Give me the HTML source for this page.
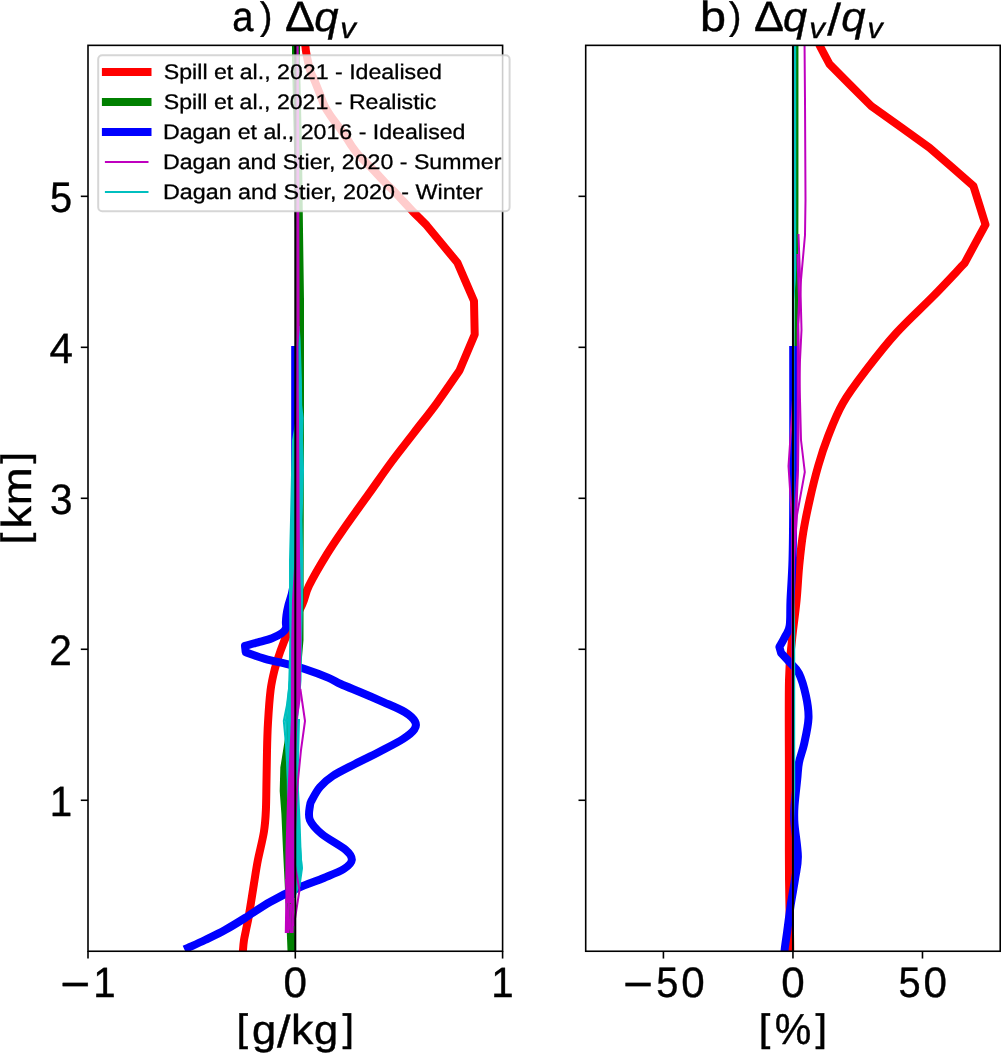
<!DOCTYPE html><html><head><meta charset="utf-8"><style>html,body{margin:0;padding:0;background:#fff;width:1001px;height:1053px;overflow:hidden}svg{display:block;will-change:transform}text{font-family:"Liberation Sans", sans-serif;fill:#000;text-rendering:geometricPrecision;stroke:#000;stroke-width:0.4px}text.lg{stroke-width:0.3px}</style></head><body>
<svg width="1001" height="1053" viewBox="0 0 1001 1053">
<rect width="1001" height="1053" fill="#fff"/>
<defs><clipPath id="cl"><rect x="88.0" y="45.35" width="414.6" height="905.9"/></clipPath><clipPath id="cr"><rect x="585.7" y="45.35" width="414.5" height="905.9"/></clipPath></defs>
<g clip-path="url(#cl)">
<path d="M305.4,38.0 C305.4,39.4 305.2,43.4 305.4,46.2 C305.6,49.0 305.8,50.7 306.6,54.8 C307.4,58.9 309.0,66.7 310.3,70.9 C311.6,75.1 312.8,76.3 314.3,80.0 C315.9,83.7 317.8,88.9 319.6,93.3 C321.4,97.7 322.9,102.6 324.9,106.6 C326.9,110.6 329.2,113.6 331.6,117.2 C334.1,120.8 337.1,124.5 339.6,128.0 C342.1,131.5 344.4,134.9 346.5,138.0 C348.6,141.1 350.0,143.7 352.0,146.5 C354.0,149.3 356.1,152.2 358.5,155.0 C360.9,157.8 363.8,160.4 366.6,163.2 C369.4,166.0 372.2,168.8 375.2,171.9 C378.2,175.0 381.4,178.7 384.6,182.0 C387.8,185.3 391.1,188.3 394.2,191.5 C397.3,194.7 400.1,197.9 403.3,201.3 C406.5,204.7 410.2,208.8 413.2,211.9 C416.2,215.0 419.0,217.7 421.2,219.9 C423.4,222.1 425.6,224.3 426.5,225.2 C431.7,231.5 452.3,256.5 457.5,262.8 C460.2,269.2 471.2,294.6 474.0,301.0 C474.1,306.6 474.6,328.9 474.7,334.5 C472.2,340.5 462.0,364.5 459.5,370.5 C455.7,376.0 444.3,392.9 436.7,403.3 C429.1,413.7 421.5,423.0 413.9,432.9 C406.3,442.8 398.7,452.2 391.1,462.5 C383.5,472.8 376.0,483.8 368.4,494.4 C360.8,505.0 352.5,516.4 345.6,526.3 C338.8,536.2 333.4,543.8 327.3,553.7 C321.2,563.6 313.3,577.1 309.1,585.6 C304.9,594.1 305.8,596.6 302.2,604.7 C298.6,612.8 290.9,626.2 287.3,634.0 C283.7,641.8 282.4,645.7 280.3,651.5 C278.2,657.3 276.4,662.6 274.8,669.0 C273.2,675.4 271.7,681.1 270.6,690.0 C269.5,698.9 268.6,712.4 268.0,722.6 C267.4,732.8 267.2,741.4 267.0,751.0 C266.8,760.6 266.7,770.2 266.5,780.0 C266.3,789.8 266.3,801.3 265.9,810.0 C265.5,818.7 265.2,823.7 263.9,832.0 C262.6,840.3 259.6,851.3 257.9,860.0 C256.2,868.7 255.4,874.8 253.9,884.0 C252.4,893.2 250.3,907.3 249.0,915.0 C247.7,922.7 246.8,925.8 246.0,930.0 C245.2,934.2 244.5,936.7 244.0,940.0 C243.5,943.3 243.2,947.0 243.0,950.0 C242.8,953.0 242.8,956.7 242.8,958.0" fill="none" stroke="#ff0000" stroke-width="8" stroke-linejoin="round" stroke-linecap="square"/>
<polyline points="296.0,38.0 296.0,60.0 298.0,150.0 299.0,230.0 300.0,300.0 300.0,400.0 299.8,500.0 299.6,580.0 299.5,640.0 296.0,680.0 292.0,710.0 288.8,740.0 284.3,768.0 283.7,791.0 285.4,814.0 287.0,850.0 289.5,900.0 291.5,950.0 291.5,958.0" fill="none" stroke="#008000" stroke-width="8" stroke-linejoin="round" stroke-linecap="square"/>
<path d="M295.2,350.0 C295.2,385.0 295.2,525.0 295.2,560.0 C294.8,564.7 294.1,580.5 293.0,588.0 C291.9,595.5 289.6,600.5 288.5,605.0 C287.4,609.5 286.9,612.1 286.5,615.0 C286.1,617.9 286.0,619.9 285.9,622.1 C285.8,624.3 286.6,626.5 285.9,628.4 C285.2,630.3 284.0,631.7 281.7,633.3 C279.4,634.9 275.9,636.7 272.0,638.2 C268.1,639.7 262.5,641.1 258.0,642.4 C253.5,643.7 247.2,645.3 245.0,645.9 C245.1,647.0 245.6,651.2 245.7,652.2 C248.9,653.3 257.6,656.7 265.0,658.8 C272.4,660.9 283.6,663.1 290.1,664.8 C296.6,666.5 297.7,666.7 304.0,668.8 C310.3,670.9 321.9,675.1 328.0,677.6 C334.1,680.1 335.4,681.6 340.7,684.0 C346.0,686.4 352.7,689.0 359.9,692.0 C367.1,695.0 376.4,699.0 383.9,702.3 C391.4,705.6 399.5,708.8 404.7,712.0 C409.9,715.2 413.4,718.6 415.0,721.5 C416.6,724.4 416.3,726.6 414.3,729.5 C412.3,732.4 408.9,735.2 403.0,739.0 C397.1,742.8 387.0,747.8 379.0,752.0 C371.0,756.2 362.7,760.0 355.0,764.0 C347.3,768.0 338.5,772.2 332.7,776.0 C326.9,779.8 323.4,783.0 320.0,787.0 C316.6,791.0 313.7,796.6 312.0,799.8 C310.3,803.0 310.2,802.6 309.9,806.0 C309.5,809.4 307.9,815.3 309.9,820.0 C311.9,824.7 315.8,829.0 321.8,834.0 C327.8,839.0 340.8,845.7 345.8,850.0 C350.8,854.3 352.1,856.8 351.8,860.0 C351.5,863.2 348.5,866.0 343.8,869.0 C339.1,872.0 331.5,874.8 323.8,878.0 C316.1,881.2 306.9,884.0 297.9,888.0 C288.9,892.0 278.8,897.0 270.0,902.0 C261.2,907.0 252.5,913.3 245.0,918.0 C237.5,922.7 231.7,926.3 225.0,930.0 C218.3,933.7 211.2,937.0 205.0,940.0 C198.8,943.0 190.8,946.5 188.0,947.8" fill="none" stroke="#0000ff" stroke-width="8" stroke-linejoin="round" stroke-linecap="square"/>
<polygon points="298.4,326.0 298.3,340.0 298.3,380.0 297.5,405.0 296.0,418.0 292.0,440.0 291.1,470.0 290.0,520.0 289.0,560.0 289.0,600.0 289.5,640.0 289.0,680.0 288.0,700.0 287.0,720.0 288.0,760.0 289.0,790.0 293.0,820.0 294.0,850.0 294.0,868.0 294.0,886.0 294.0,898.0 295.0,898.0 299.5,886.0 302.5,868.0 301.5,850.0 300.5,820.0 299.0,790.0 298.0,760.0 298.0,720.0 300.0,700.0 301.5,680.0 302.0,640.0 303.0,600.0 303.2,560.0 302.5,520.0 304.0,470.0 303.0,440.0 303.6,418.0 302.2,405.0 301.9,380.0 300.6,340.0 299.6,326.0" fill="#00bfbf"/>
<polyline points="290.0,680.0 287.0,705.0 283.8,721.0 286.0,745.0 288.0,780.0 289.0,820.0 292.0,870.0" fill="none" stroke="#00bfbf" stroke-width="2" stroke-linejoin="round" stroke-linecap="square"/>
<polyline points="290.5,640.0 289.0,690.0 286.0,720.0 287.5,760.0 288.0,800.0 291.0,850.0" fill="none" stroke="#00bfbf" stroke-width="2" stroke-linejoin="round" stroke-linecap="square"/>
<polyline points="299.0,720.0 297.5,780.0 298.0,820.0 301.0,860.0 302.0,868.0 299.5,886.0" fill="none" stroke="#00bfbf" stroke-width="2" stroke-linejoin="round" stroke-linecap="square"/>
<polygon points="296.3,38.0 296.2,150.0 296.2,250.0 296.3,330.0 296.2,345.0 296.0,420.0 296.0,500.0 294.5,560.0 292.0,600.0 291.2,640.0 291.0,700.0 291.0,720.0 289.0,760.0 287.0,800.0 285.5,850.0 285.3,880.0 285.5,903.0 294.0,903.0 294.4,880.0 294.5,850.0 295.0,800.0 296.0,760.0 297.5,720.0 300.5,700.0 301.4,640.0 301.0,600.0 300.0,560.0 299.5,500.0 299.0,420.0 298.4,345.0 299.6,330.0 299.4,250.0 299.2,150.0 298.6,38.0" fill="#bf00bf"/>
<polyline points="300.5,690.0 305.0,721.0 301.0,750.0 297.0,790.0 295.0,830.0" fill="none" stroke="#bf00bf" stroke-width="2" stroke-linejoin="round" stroke-linecap="square"/>
<polyline points="294.0,860.0 299.5,890.0 294.0,925.0" fill="none" stroke="#bf00bf" stroke-width="2" stroke-linejoin="round" stroke-linecap="square"/>
<polyline points="286.0,880.0 288.5,905.0 286.0,932.0" fill="none" stroke="#bf00bf" stroke-width="2" stroke-linejoin="round" stroke-linecap="square"/>
<polyline points="286.3,900.0 285.8,932.0" fill="none" stroke="#bf00bf" stroke-width="2" stroke-linejoin="round" stroke-linecap="square"/>
<polyline points="289.0,900.0 287.8,932.0" fill="none" stroke="#bf00bf" stroke-width="2" stroke-linejoin="round" stroke-linecap="square"/>
<polyline points="292.0,900.0 289.5,925.0 288.5,932.0" fill="none" stroke="#bf00bf" stroke-width="2" stroke-linejoin="round" stroke-linecap="square"/>
<polyline points="293.3,900.0 292.6,932.0" fill="none" stroke="#bf00bf" stroke-width="2" stroke-linejoin="round" stroke-linecap="square"/>
<polyline points="290.5,905.0 291.0,932.0" fill="none" stroke="#bf00bf" stroke-width="2" stroke-linejoin="round" stroke-linecap="square"/>
<line x1="295.3" y1="38" x2="295.3" y2="958" stroke="#000" stroke-width="2"/>
</g>
<g clip-path="url(#cr)">
<path d="M819.6,38.0 C819.6,39.2 819.6,44.2 819.6,45.5 C821.2,48.6 827.9,61.1 829.5,64.2 C836.5,71.2 864.2,99.0 871.2,106.0 C880.9,113.0 919.8,140.8 929.5,147.7 C936.8,154.1 966.1,179.6 973.4,186.0 C975.4,192.4 983.5,218.2 985.5,224.6 C982.0,231.1 968.0,256.9 964.5,263.3 C959.2,268.8 944.3,284.9 932.9,296.5 C921.5,308.1 907.4,320.8 896.3,333.0 C885.2,345.2 875.3,358.0 866.4,369.7 C857.5,381.4 849.4,391.9 843.0,403.0 C836.6,414.1 832.3,425.5 828.2,436.0 C824.1,446.5 821.2,455.5 818.2,466.0 C815.2,476.5 812.4,487.9 809.9,499.0 C807.4,510.1 805.0,521.5 803.2,532.6 C801.4,543.7 800.3,554.6 799.2,565.8 C798.1,577.0 797.8,587.6 796.6,600.0 C795.4,612.4 793.3,626.7 792.0,640.0 C790.7,653.3 789.5,658.3 789.0,680.0 C788.5,701.7 788.9,746.0 788.9,770.0 C788.9,794.0 788.9,806.0 788.9,824.0 C788.9,842.0 788.8,860.0 789.0,878.0 C789.2,896.0 789.8,920.3 790.0,932.0 C790.2,943.7 790.2,944.1 790.2,948.4 C790.2,952.7 790.3,956.4 790.3,958.0" fill="none" stroke="#ff0000" stroke-width="8" stroke-linejoin="round" stroke-linecap="square"/>
<polyline points="796.7,38.0 796.7,200.0 796.5,290.0 796.0,346.0 795.0,352.0" fill="none" stroke="#008000" stroke-width="3.5" stroke-linejoin="round" stroke-linecap="square"/>
<polyline points="795.0,352.0 793.0,400.0 793.0,958.0" fill="none" stroke="#008000" stroke-width="2" stroke-linejoin="round" stroke-linecap="square"/>
<path d="M793.2,350.0 C793.2,375.0 793.3,465.0 793.2,500.0 C793.1,535.0 793.0,543.3 792.5,560.0 C792.0,576.7 791.0,589.1 790.5,600.0 C790.0,610.9 790.6,619.6 789.7,625.6 C788.9,631.6 787.1,632.4 785.4,636.0 C783.7,639.6 780.4,645.2 779.4,647.0 C779.7,648.0 780.8,652.0 781.1,653.0 C782.7,654.7 787.5,659.8 790.5,663.2 C793.5,666.6 796.4,668.1 799.0,673.5 C801.6,678.9 804.3,688.3 805.9,695.7 C807.5,703.1 808.8,710.0 808.5,718.0 C808.2,726.0 805.8,736.2 804.2,743.6 C802.6,751.0 800.2,756.4 799.0,762.4 C797.8,768.4 798.0,772.2 797.2,779.5 C796.5,786.8 795.0,798.6 794.5,806.0 C794.0,813.4 793.9,815.6 794.5,824.0 C795.1,832.4 797.8,847.5 797.9,856.5 C798.0,865.5 796.4,869.9 795.2,878.0 C794.0,886.1 792.1,896.0 790.7,905.0 C789.4,914.0 788.1,924.8 787.1,932.0 C786.1,939.2 785.3,944.1 784.8,948.4 C784.3,952.7 784.1,956.4 784.0,958.0" fill="none" stroke="#0000ff" stroke-width="8" stroke-linejoin="round" stroke-linecap="square"/>
<polyline points="794.6,38.0 794.6,280.0 793.0,300.0 793.0,600.0 794.2,630.0 794.2,790.0 793.0,820.0 793.0,932.0" fill="none" stroke="#00bfbf" stroke-width="2" stroke-linejoin="round" stroke-linecap="square"/>
<polyline points="795.2,38.0 795.2,270.0 793.5,300.0 793.0,932.0" fill="none" stroke="#00bfbf" stroke-width="2" stroke-linejoin="round" stroke-linecap="square"/>
<polyline points="804.5,38.0 805.0,100.0 805.5,200.0 805.0,235.0 801.0,280.0 798.3,324.0 799.0,360.0 800.0,400.0 801.0,440.0 804.8,472.0 797.0,515.0 794.0,560.0 793.0,600.0 793.0,932.0" fill="none" stroke="#bf00bf" stroke-width="2" stroke-linejoin="round" stroke-linecap="square"/>
<polyline points="798.5,235.0 800.5,290.0 801.5,330.0 800.0,360.0 799.0,400.0 798.0,470.0 796.0,520.0 793.0,560.0 793.0,932.0" fill="none" stroke="#bf00bf" stroke-width="2" stroke-linejoin="round" stroke-linecap="square"/>
<polyline points="797.5,255.0 799.0,300.0 797.8,330.0 797.8,400.0 797.5,470.0 795.0,520.0 793.0,560.0" fill="none" stroke="#bf00bf" stroke-width="2" stroke-linejoin="round" stroke-linecap="square"/>
<polyline points="793.0,38.0 793.0,400.0 788.5,466.0 792.0,520.0 793.0,932.0" fill="none" stroke="#bf00bf" stroke-width="2" stroke-linejoin="round" stroke-linecap="square"/>
<line x1="792.95" y1="38" x2="792.95" y2="958" stroke="#000" stroke-width="2"/>
</g>
<rect x="88.0" y="45.35" width="414.6" height="905.9" fill="none" stroke="#000" stroke-width="1.6" stroke-linejoin="miter"/>
<rect x="585.7" y="45.35" width="414.5" height="905.9" fill="none" stroke="#000" stroke-width="1.6" stroke-linejoin="miter"/>
<line x1="80.8" y1="800.27" x2="88.0" y2="800.27" stroke="#000" stroke-width="1.6"/>
<line x1="578.5" y1="800.27" x2="585.7" y2="800.27" stroke="#000" stroke-width="1.6"/>
<text x="49.78" y="815.87" font-size="42.38" textLength="22.40" lengthAdjust="spacingAndGlyphs">1</text>
<line x1="80.8" y1="649.28" x2="88.0" y2="649.28" stroke="#000" stroke-width="1.6"/>
<line x1="578.5" y1="649.28" x2="585.7" y2="649.28" stroke="#000" stroke-width="1.6"/>
<text x="49.34" y="664.88" font-size="42.52" textLength="22.60" lengthAdjust="spacingAndGlyphs">2</text>
<line x1="80.8" y1="498.30" x2="88.0" y2="498.30" stroke="#000" stroke-width="1.6"/>
<line x1="578.5" y1="498.30" x2="585.7" y2="498.30" stroke="#000" stroke-width="1.6"/>
<text x="49.96" y="514.05" font-size="42.73" textLength="22.52" lengthAdjust="spacingAndGlyphs">3</text>
<line x1="80.8" y1="347.32" x2="88.0" y2="347.32" stroke="#000" stroke-width="1.6"/>
<line x1="578.5" y1="347.32" x2="585.7" y2="347.32" stroke="#000" stroke-width="1.6"/>
<text x="49.44" y="362.92" font-size="42.38" textLength="23.45" lengthAdjust="spacingAndGlyphs">4</text>
<line x1="80.8" y1="196.33" x2="88.0" y2="196.33" stroke="#000" stroke-width="1.6"/>
<line x1="578.5" y1="196.33" x2="585.7" y2="196.33" stroke="#000" stroke-width="1.6"/>
<text x="49.94" y="212.08" font-size="42.60" textLength="22.13" lengthAdjust="spacingAndGlyphs">5</text>
<line x1="88.00" y1="951.25" x2="88.00" y2="958.55" stroke="#000" stroke-width="1.6"/>
<text x="60.21" y="999.65" font-size="46.58" textLength="30.10" lengthAdjust="spacingAndGlyphs">−</text><text x="93.36" y="996.70" font-size="42.38" textLength="22.40" lengthAdjust="spacingAndGlyphs">1</text>
<line x1="295.30" y1="951.25" x2="295.30" y2="958.55" stroke="#000" stroke-width="1.6"/>
<text x="283.57" y="996.85" font-size="42.73" textLength="23.45" lengthAdjust="spacingAndGlyphs">0</text>
<line x1="502.60" y1="951.25" x2="502.60" y2="958.55" stroke="#000" stroke-width="1.6"/>
<text x="491.20" y="996.70" font-size="42.38" textLength="22.40" lengthAdjust="spacingAndGlyphs">1</text>
<line x1="663.42" y1="951.25" x2="663.42" y2="958.55" stroke="#000" stroke-width="1.6"/>
<text x="622.91" y="999.65" font-size="46.58" textLength="30.10" lengthAdjust="spacingAndGlyphs">−</text><text x="656.22" y="996.85" font-size="42.60" textLength="22.13" lengthAdjust="spacingAndGlyphs">5</text><text x="681.17" y="996.85" font-size="42.73" textLength="23.45" lengthAdjust="spacingAndGlyphs">0</text>
<line x1="792.95" y1="951.25" x2="792.95" y2="958.55" stroke="#000" stroke-width="1.6"/>
<text x="781.22" y="996.85" font-size="42.73" textLength="23.45" lengthAdjust="spacingAndGlyphs">0</text>
<line x1="922.48" y1="951.25" x2="922.48" y2="958.55" stroke="#000" stroke-width="1.6"/>
<text x="898.52" y="996.85" font-size="42.60" textLength="22.13" lengthAdjust="spacingAndGlyphs">5</text><text x="923.47" y="996.85" font-size="42.73" textLength="23.45" lengthAdjust="spacingAndGlyphs">0</text>
<text x="236.45" y="1041.13" font-size="38.26" textLength="11.58" lengthAdjust="spacingAndGlyphs">[</text><text x="251.97" y="1043.55" font-size="41.29" textLength="24.18" lengthAdjust="spacingAndGlyphs">g</text><text x="276.98" y="1047.07" font-size="44.76" textLength="13.48" lengthAdjust="spacingAndGlyphs">/</text><text x="291.08" y="1043.80" font-size="41.94" textLength="22.36" lengthAdjust="spacingAndGlyphs">k</text><text x="314.00" y="1043.55" font-size="41.29" textLength="24.18" lengthAdjust="spacingAndGlyphs">g</text><text x="342.57" y="1041.13" font-size="38.26" textLength="11.58" lengthAdjust="spacingAndGlyphs">]</text>
<text x="758.81" y="1041.13" font-size="38.26" textLength="11.58" lengthAdjust="spacingAndGlyphs">[</text><text x="774.69" y="1044.11" font-size="43.24" textLength="36.52" lengthAdjust="spacingAndGlyphs">%</text><text x="815.52" y="1041.13" font-size="38.26" textLength="11.58" lengthAdjust="spacingAndGlyphs">]</text>
<g transform="translate(31,0) rotate(-90)"><text x="-544.30" y="-2.67" font-size="38.26" textLength="11.58" lengthAdjust="spacingAndGlyphs">[</text><text x="-528.55" y="0.00" font-size="41.94" textLength="22.36" lengthAdjust="spacingAndGlyphs">k</text><text x="-505.39" y="0.00" font-size="41.63" textLength="37.96" lengthAdjust="spacingAndGlyphs">m</text><text x="-463.47" y="-2.67" font-size="38.26" textLength="11.58" lengthAdjust="spacingAndGlyphs">]</text></g>
<text x="232.28" y="31.46" font-size="41.93" textLength="21.22" lengthAdjust="spacingAndGlyphs">a</text><text x="259.98" y="28.66" font-size="38.24" textLength="12.31" lengthAdjust="spacingAndGlyphs">)</text><text x="284.96" y="31.30" font-size="42.38" textLength="30.00" lengthAdjust="spacingAndGlyphs">Δ</text><text x="314.33" y="31.01" font-size="41.13" textLength="24.27" lengthAdjust="spacingAndGlyphs" font-style="italic">q</text><text x="340.29" y="37.70" font-size="28.98" textLength="15.61" lengthAdjust="spacingAndGlyphs" font-style="italic">v</text>
<text x="699.99" y="31.45" font-size="42.15" textLength="25.97" lengthAdjust="spacingAndGlyphs">b</text><text x="728.98" y="28.66" font-size="38.24" textLength="12.31" lengthAdjust="spacingAndGlyphs">)</text><text x="753.96" y="31.30" font-size="42.38" textLength="30.00" lengthAdjust="spacingAndGlyphs">Δ</text><text x="783.14" y="31.01" font-size="41.13" textLength="24.16" lengthAdjust="spacingAndGlyphs" font-style="italic">q</text><text x="809.19" y="37.70" font-size="28.98" textLength="15.61" lengthAdjust="spacingAndGlyphs" font-style="italic">v</text><text x="827.30" y="34.57" font-size="44.76" textLength="13.70" lengthAdjust="spacingAndGlyphs">/</text><text x="841.23" y="31.01" font-size="41.13" textLength="24.27" lengthAdjust="spacingAndGlyphs" font-style="italic">q</text><text x="867.45" y="37.70" font-size="28.98" textLength="15.11" lengthAdjust="spacingAndGlyphs" font-style="italic">v</text>
<rect x="98.2" y="55.3" width="411.4" height="155.9" rx="4" ry="4" fill="#ffffff" fill-opacity="0.8" stroke="#cccccc" stroke-opacity="0.8" stroke-width="2"/><line x1="105.9" y1="72" x2="147.5" y2="72" stroke="#ff0000" stroke-width="8" stroke-linecap="square"/><text x="163.75" y="79.00" font-size="21.2" textLength="278.15" lengthAdjust="spacingAndGlyphs" class="lg">Spill et al., 2021 - Idealised</text><line x1="105.9" y1="102" x2="147.5" y2="102" stroke="#008000" stroke-width="8" stroke-linecap="square"/><text x="163.75" y="109.00" font-size="21.2" textLength="272.56" lengthAdjust="spacingAndGlyphs" class="lg">Spill et al., 2021 - Realistic</text><line x1="105.9" y1="132" x2="147.5" y2="132" stroke="#0000ff" stroke-width="8" stroke-linecap="square"/><text x="163.00" y="139.00" font-size="21.2" textLength="302.49" lengthAdjust="spacingAndGlyphs" class="lg">Dagan et al., 2016 - Idealised</text><line x1="105.9" y1="162" x2="147.5" y2="162" stroke="#bf00bf" stroke-width="2" stroke-linecap="square"/><text x="163.00" y="169.00" font-size="21.2" textLength="338.38" lengthAdjust="spacingAndGlyphs" class="lg">Dagan and Stier, 2020 - Summer</text><line x1="105.9" y1="192" x2="147.5" y2="192" stroke="#00bfbf" stroke-width="2" stroke-linecap="square"/><text x="162.99" y="199.00" font-size="21.2" textLength="319.90" lengthAdjust="spacingAndGlyphs" class="lg">Dagan and Stier, 2020 - Winter</text>
</svg></body></html>
